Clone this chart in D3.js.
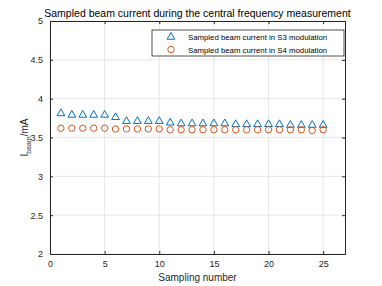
<!DOCTYPE html>
<html>
<head>
<meta charset="utf-8">
<script src="https://cdn.jsdelivr.net/npm/d3@7"></script>
<style>
  body { margin: 0; background: #fff; }
  text { font-family: "Liberation Sans", Arial, sans-serif; }
</style>
</head>
<body>
<div id="chart"></div>
<script>
// Chart size
var svgWidth = 382;
var svgHeight = 286;

var margin = { top: 21, right: 37, bottom: 32, left: 50 };
var width = svgWidth - margin.left - margin.right;
var height = svgHeight - margin.top - margin.bottom;

// Data
var samples = d3.range(1, 26);
var s3Current = [3.81, 3.79, 3.79, 3.79, 3.79, 3.76, 3.71, 3.71, 3.71, 3.71,
                 3.69, 3.68, 3.68, 3.68, 3.68, 3.68, 3.67, 3.67, 3.67, 3.67,
                 3.67, 3.66, 3.66, 3.66, 3.66];
var s4Current = [3.62, 3.62, 3.62, 3.62, 3.62, 3.61, 3.61, 3.61, 3.61, 3.61,
                 3.60, 3.60, 3.60, 3.60, 3.60, 3.60, 3.60, 3.60, 3.60, 3.60,
                 3.60, 3.60, 3.60, 3.59, 3.60];
var xTicks = [0, 5, 10, 15, 20, 25];
var yTicks = [2, 2.5, 3, 3.5, 4, 4.5, 5];
var seriesNames = ["Sampled beam current in S3 modulation", "Sampled beam current in S4 modulation"];

var blue = "#0072BD";
var orange = "#D95319";

var svg = d3.select("#chart")
  .append("svg")
  .attr("width", svgWidth)
  .attr("height", svgHeight);

var chartGroup = svg.append("g")
  .attr("transform", `translate(${margin.left}, ${margin.top})`);

// Scales
var x = d3.scaleLinear().domain([0, 27]).range([0, width]);
var y = d3.scaleLinear().domain([2, 5]).range([height, 0]);

// Grid lines
chartGroup.append("g")
  .selectAll("line.vgrid")
  .data(xTicks)
  .enter()
  .append("line")
  .attr("x1", d => x(d)).attr("x2", d => x(d))
  .attr("y1", 0).attr("y2", height)
  .attr("stroke", "#e6e6e6").attr("stroke-width", 1);

chartGroup.append("g")
  .selectAll("line.hgrid")
  .data(yTicks)
  .enter()
  .append("line")
  .attr("x1", 0).attr("x2", width)
  .attr("y1", d => y(d)).attr("y2", d => y(d))
  .attr("stroke", "#e6e6e6").attr("stroke-width", 1);

// Axes with inward ticks (box style)
var bottomAxis = d3.axisBottom(x).tickValues(xTicks).tickSize(-3).tickPadding(7).tickFormat(d3.format("d"));
var leftAxis = d3.axisLeft(y).tickValues(yTicks).tickSize(-3).tickPadding(7).tickFormat(d3.format("~g"));
var topAxis = d3.axisTop(x).tickValues(xTicks).tickSize(-3).tickFormat("");
var rightAxis = d3.axisRight(y).tickValues(yTicks).tickSize(-3).tickFormat("");

function styleAxis(g) {
  g.select(".domain").attr("stroke", "#262626");
  g.selectAll(".tick line").attr("stroke", "#262626");
  g.selectAll(".tick text").attr("fill", "#262626").style("font-size", "9px");
}

chartGroup.append("g").attr("transform", `translate(0, ${height})`).call(bottomAxis).call(styleAxis);
chartGroup.append("g").call(leftAxis).call(styleAxis);
chartGroup.append("g").call(topAxis).call(styleAxis);
chartGroup.append("g").attr("transform", `translate(${width}, 0)`).call(rightAxis).call(styleAxis);

// Markers
var triangle = d3.symbol().type(d3.symbolTriangle).size(26);

chartGroup.append("g")
  .selectAll("path")
  .data(s3Current)
  .enter()
  .append("path")
  .attr("d", triangle)
  .attr("transform", (d, i) => `translate(${x(samples[i])}, ${y(d)})`)
  .attr("fill", "none")
  .attr("stroke", blue)
  .attr("stroke-width", 1);

chartGroup.append("g")
  .selectAll("circle")
  .data(s4Current)
  .enter()
  .append("circle")
  .attr("cx", (d, i) => x(samples[i]))
  .attr("cy", d => y(d))
  .attr("r", 3.2)
  .attr("fill", "none")
  .attr("stroke", orange)
  .attr("stroke-width", 1);

// Legend
var legend = chartGroup.append("g").attr("transform", "translate(102, 9)");
legend.append("rect")
  .attr("x", 0).attr("y", 0)
  .attr("width", 192).attr("height", 26)
  .attr("fill", "#fff").attr("stroke", "#262626").attr("stroke-width", 0.8);

legend.append("path")
  .attr("d", triangle)
  .attr("transform", "translate(19, 7)")
  .attr("fill", "none").attr("stroke", blue);
legend.append("circle")
  .attr("cx", 19).attr("cy", 19.5).attr("r", 3.2)
  .attr("fill", "none").attr("stroke", orange);

legend.selectAll("text")
  .data(seriesNames)
  .enter()
  .append("text")
  .attr("x", 36)
  .attr("y", (d, i) => 10 + i * 12.5)
  .style("font-size", "7.8px")
  .attr("fill", "#000")
  .text(d => d);

// Title
svg.append("text")
  .attr("x", margin.left + width / 2)
  .attr("y", 17)
  .attr("text-anchor", "middle")
  .style("font-size", "10.5px")
  .attr("fill", "#000")
  .text("Sampled beam current during the central frequency measurement");

// X label
svg.append("text")
  .attr("x", margin.left + width / 2)
  .attr("y", 281)
  .attr("text-anchor", "middle")
  .style("font-size", "10px")
  .attr("fill", "#262626")
  .text("Sampling number");

// Y label with subscript
var yLabel = svg.append("text")
  .attr("transform", `translate(28, ${margin.top + height / 2}) rotate(-90)`)
  .attr("text-anchor", "middle")
  .style("font-size", "10px")
  .attr("fill", "#262626");
yLabel.append("tspan").text("I");
yLabel.append("tspan").attr("dy", 3).style("font-size", "7px").text("beam");
yLabel.append("tspan").attr("dy", -3).text("/mA");
</script>
</body>
</html>
